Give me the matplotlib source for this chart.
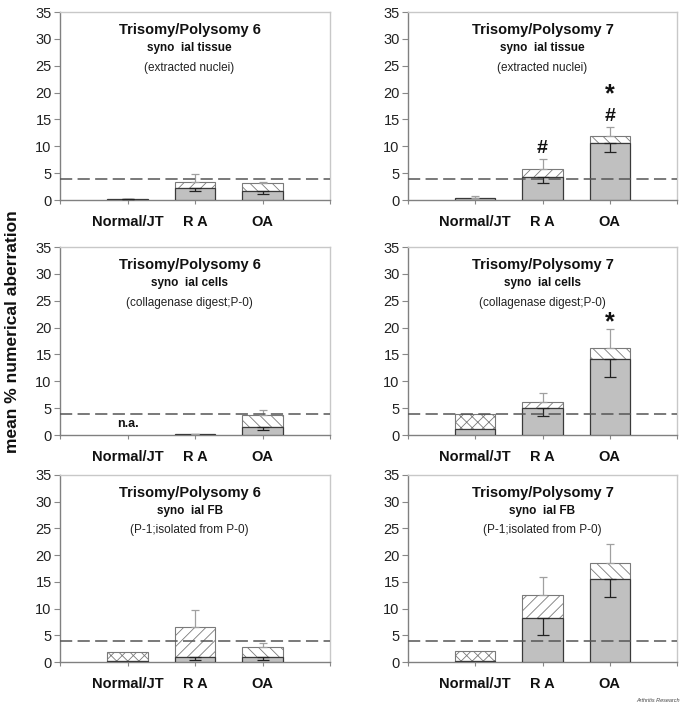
import numpy as np
import matplotlib
matplotlib.use("Agg")
import matplotlib.pyplot as plt

plt.rcParams['font.family'] = ['Liberation Sans', 'DejaVu Sans']
plt.rcParams['hatch.linewidth'] = 0.6
plt.rcParams['hatch.color'] = '#555555'

categories = ["Normal/JT", "R A", "OA"]
hatches = ["xxx", "///", "\\\\\\"]

titles = ["Trisomy/Polysomy 6", "Trisomy/Polysomy 7"] * 3
subtitles = ["syno  ial tissue", "syno  ial tissue",
             "syno  ial cells", "syno  ial cells",
             "syno  ial FB", "syno  ial FB"]
notes = ["(extracted nuclei)", "(extracted nuclei)",
         "(collagenase digest;P-0)", "(collagenase digest;P-0)",
         "(P-1;isolated from P-0)", "(P-1;isolated from P-0)"]

nan = np.nan
# lower (gray) value, its lower error end, total value, its upper error end
gray_vals = [[0.15, 2.2, 1.6], [0.35, 4.3, 10.7],
             [nan, 0.15, 1.4], [1.15, 5.0, 14.1],
             [0.1, 0.95, 0.95], [0.1, 8.3, 15.6]]
gray_low = [[0.1, 1.6, 1.1], [0.35, 3.1, 9.0],
            [nan, 0.15, 1.0], [1.15, 3.5, 10.8],
            [0.1, 0.3, 0.4], [0.1, 5.0, 12.1]]
total_vals = [[0.15, 3.4, 3.25], [0.35, 5.85, 11.9],
              [nan, 0.15, 3.65], [4.0, 6.2, 16.2],
              [1.95, 6.55, 2.8], [2.1, 12.5, 18.45]]
total_high = [[0.25, 4.9, 3.4], [0.7, 7.7, 13.6],
              [nan, 0.25, 4.7], [4.0, 7.9, 19.7],
              [1.95, 9.8, 3.55], [2.1, 16.0, 22.0]]

# significance marks: (panel, category index, y, text)
marks = [(1, 1, 9.6, "#"), (1, 2, 15.6, "#"), (1, 2, 19.6, "*"),
         (3, 2, 21.0, "*")]
na_marks = [(2, 0, 2.0, "n.a.")]

threshold = 4.0
yticks = [0, 5, 10, 15, 20, 25, 30, 35]

W, H = 685, 706
fig = plt.figure(figsize=(W / 100, H / 100), dpi=100)

cols = [(60, 330), (408, 677)]
rows = [(12, 200), (247, 435), (475, 662)]
title_x = [0.48, 0.50]

for i in range(6):
    r, c = divmod(i, 2)
    x0, x1 = cols[c]
    t0, b0 = rows[r]
    ax = fig.add_axes([x0 / W, 1 - b0 / H, (x1 - x0) / W, (b0 - t0) / H])
    xs = np.arange(1, 4)
    g = np.array(gray_vals[i])
    gl = np.array(gray_low[i])
    t = np.array(total_vals[i])
    th = np.array(total_high[i])
    for k in range(3):
        if np.isnan(g[k]):
            continue
        if t[k] > g[k]:
            ax.bar(xs[k], t[k] - g[k], bottom=g[k], width=0.6, color='white',
                   edgecolor='#7a7a7a', linewidth=0.8, hatch=hatches[k], zorder=2)
        ax.bar(xs[k], g[k], width=0.6, color='#c0c0c0', edgecolor='#3a3a3a',
               linewidth=0.9, zorder=3)
        if th[k] > t[k]:
            ax.errorbar(xs[k], t[k], yerr=[[0], [th[k] - t[k]]], fmt='none',
                        ecolor='#a0a0a0', elinewidth=0.9, capsize=3, capthick=0.9,
                        zorder=4)
        if g[k] > gl[k]:
            ax.errorbar(xs[k], g[k], yerr=[[g[k] - gl[k]], [0]], fmt='none',
                        ecolor='#222222', elinewidth=0.9, capsize=4, capthick=0.9,
                        zorder=5)
    ax.axhline(threshold, color='#555555', lw=1.1, linestyle=(0, (8, 3.5)), zorder=6)
    ax.set_xlim(0, 4)
    ax.set_ylim(0, 35)
    ax.set_yticks(yticks)
    ax.set_xticks([0, 1, 2, 3, 4])
    ax.set_xticklabels([""] + categories + [""], fontsize=10.5, fontweight='bold',
                       color='#111111')
    ax.tick_params(axis='x', length=3, direction='out', pad=8, color='#888888')
    ax.tick_params(axis='y', length=4, direction='out', pad=2, labelsize=10.5,
                   labelcolor='#222222', color='#888888')
    for s in ['left', 'bottom']:
        ax.spines[s].set_color('#808080')
        ax.spines[s].set_linewidth(1.0)
    for s in ['top', 'right']:
        ax.spines[s].set_color('#c8c8c8')
        ax.spines[s].set_linewidth(1.0)
    ax.text(title_x[c], 0.904, titles[i], transform=ax.transAxes, ha='center',
            va='center', fontsize=10.5, fontweight='bold', color='#111111')
    ax.text(title_x[c], 0.807, subtitles[i], transform=ax.transAxes, ha='center',
            va='center', fontsize=8.5, fontweight='bold', color='#111111')
    ax.text(title_x[c], 0.704, notes[i], transform=ax.transAxes, ha='center',
            va='center', fontsize=8.5, color='#222222')
    for (p, k, y, s) in marks:
        if p == i:
            fs = 14 if s == "#" else 18
            ax.text(xs[k], y, s, ha='center', va='center', fontsize=fs,
                    fontweight='bold', color='#111111')
    for (p, k, y, s) in na_marks:
        if p == i:
            ax.text(xs[k], y, s, ha='center', va='center', fontsize=9,
                    fontweight='bold', color='#111111')

fig.text(13 / W, 1 - 332 / H, "mean % numerical aberration", rotation=90,
         ha='center', va='center', fontsize=12.5, fontweight='bold', color='#111111')
fig.text(680 / W, 1 - 701 / H, "Arthritis Research", ha='right', va='center',
         fontsize=4, style='italic', color='#444444')

fig.savefig("out.png", dpi=100)
